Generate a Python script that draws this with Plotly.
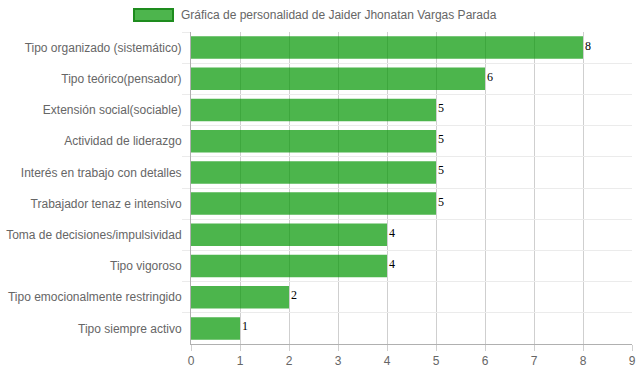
import plotly.graph_objects as go

categories = [
    "Tipo organizado (sistemático)",
    "Tipo teórico(pensador)",
    "Extensión social(sociable)",
    "Actividad de liderazgo",
    "Interés en trabajo con detalles",
    "Trabajador tenaz e intensivo",
    "Toma de decisiones/impulsividad",
    "Tipo vigoroso",
    "Tipo emocionalmente restringido",
    "Tipo siempre activo",
]
values = [8, 6, 5, 5, 5, 5, 4, 4, 2, 1]
series_name = "Gráfica de personalidad de Jaider Jhonatan Vargas Parada"
x_ticks = list(range(0, 10))

W, H = 639, 372
ML, MR, MT, MB = 191, 7, 32, 28
pw = W - ML - MR
ph = H - MT - MB

def px_x(p):
    return (p - ML) / pw

def px_y(p):
    return (H - MB - p) / ph

bar_color = "rgba(0,150,0,0.7)"
legend_fill = "#4DB54D"
border_color = "#1E8C1E"

fig = go.Figure()
fig.add_trace(go.Bar(
    y=categories,
    x=values,
    orientation="h",
    marker=dict(color=bar_color, line=dict(width=0)),
    showlegend=False,
    name=series_name,
))

# value labels just right of each bar end
for cat, val in zip(categories, values):
    fig.add_annotation(
        x=val, y=cat, xref="x", yref="y",
        text=str(val), showarrow=False,
        xanchor="left", yanchor="middle",
        xshift=0, yshift=2,
        font=dict(family="Liberation Serif", size=12, color="#000"),
    )

fig.update_layout(
    width=W, height=H,
    margin=dict(l=ML, r=MR, t=MT, b=MB, autoexpand=False),
    paper_bgcolor="white",
    plot_bgcolor="white",
    bargap=0.28,
    font=dict(family="Liberation Sans", size=12, color="#666"),
    showlegend=False,
    xaxis=dict(
        range=[0, 9],
        tickvals=x_ticks,
        showgrid=True,
        gridcolor="#CFCFCF",
        gridwidth=1,
        ticks="outside",
        ticklen=6,
        tickcolor="#CFCFCF",
        showline=True,
        linecolor="#B0B0B0",
        zeroline=False,
        automargin=False,
        tickfont=dict(family="Liberation Sans", size=12, color="#666"),
        fixedrange=True,
    ),
    yaxis=dict(
        type="category",
        categoryorder="array",
        categoryarray=categories,
        autorange="reversed",
        tickson="boundaries",
        showgrid=True,
        gridcolor="#EBEBEB",
        gridwidth=1,
        ticks="outside",
        ticklen=8,
        tickcolor="#EBEBEB",
        showline=True,
        linecolor="#B0B0B0",
        zeroline=False,
        automargin=False,
        ticklabelstandoff=6,
        tickfont=dict(family="Liberation Sans", size=12, color="#666"),
        fixedrange=True,
    ),
)

# custom legend (wide box like the reference)
fig.add_shape(
    type="rect", xref="paper", yref="paper",
    x0=px_x(134), x1=px_x(173), y0=px_y(21), y1=px_y(9),
    fillcolor=legend_fill, line=dict(color=border_color, width=2),
)
fig.add_annotation(
    xref="paper", yref="paper", x=px_x(179), y=px_y(15),
    xanchor="left", yanchor="middle", showarrow=False,
    text=series_name,
    font=dict(family="Liberation Sans", size=12, color="#666"),
)

fig.write_html(
    "out.html",
    config={"displayModeBar": False},
    post_script="document.body.style.margin='0';document.body.style.padding='0';",
)
